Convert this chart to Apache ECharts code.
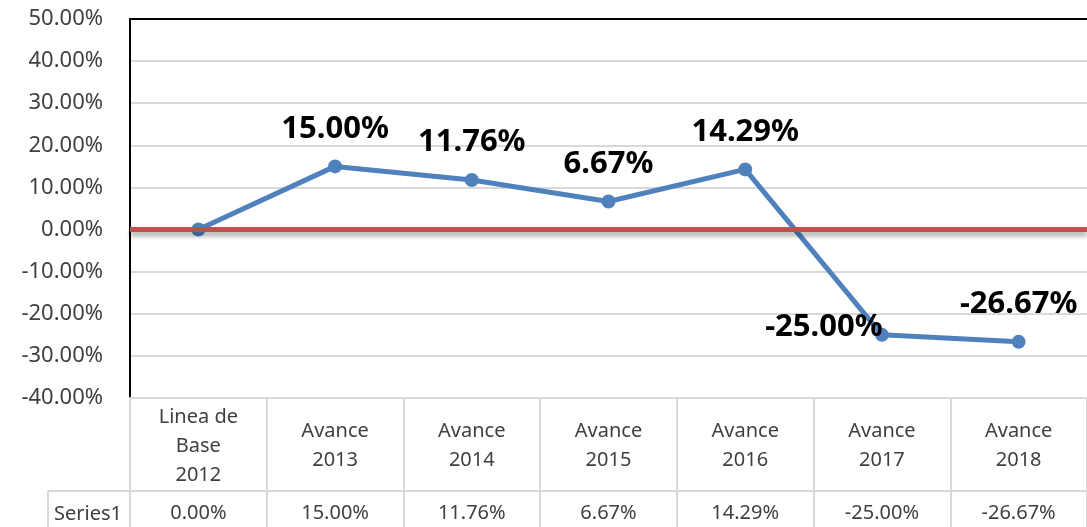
<!DOCTYPE html>
<html>
<head>
<meta charset="utf-8">
<script src="https://cdn.jsdelivr.net/npm/echarts@6/dist/echarts.min.js"></script>
<style>
html,body{margin:0;padding:0;background:#fff;}
#chart{width:1087px;height:527px;}
</style>
</head>
<body>
<div id="chart"></div>
<script>
const categories = ['Linea de\nBase\n2012', 'Avance\n2013', 'Avance\n2014', 'Avance\n2015', 'Avance\n2016', 'Avance\n2017', 'Avance\n2018'];
const seriesName = 'Series1';
const values = [0.00, 15.00, 11.76, 6.67, 14.29, -25.00, -26.67];
const yTicks = { min: -40, max: 50, interval: 10 };

const FONT = '"Noto Sans", "Open Sans", sans-serif';
const GRID_GRAY = '#d9d9d9';
const TEXT = '#404040';
const fmt = v => Number(v).toFixed(2) + '%';

const chart = echarts.init(document.getElementById('chart'), null, { renderer: 'canvas' });

const seriesData = values.map((v, i) => {
  const item = { value: v };
  if (i === 0) item.label = { show: false };
  if (i === 5) item.label = { position: 'inside', offset: [-58, -8] };
  return item;
});

chart.setOption({
  animation: false,
  backgroundColor: '#fff',
  textStyle: { fontFamily: FONT },
  grid: [
    { left: 130, right: 0, top: 19, bottom: 129 },
    { left: 130, right: 0, top: 491, height: 44 }
  ],
  xAxis: [
    {
      gridIndex: 0, type: 'category', data: categories, position: 'bottom',
      axisLine: { show: true, onZero: false, lineStyle: { color: GRID_GRAY, width: 2 } },
      axisTick: { show: true, length: 129, alignWithLabel: false, lineStyle: { color: GRID_GRAY, width: 2 } },
      axisLabel: { color: TEXT, fontSize: 20, fontFamily: FONT, lineHeight: 29, margin: 48, verticalAlign: 'middle', align: 'center', interval: 0 },
      splitLine: { show: false }
    },
    {
      gridIndex: 0, type: 'category', data: categories, position: 'top',
      axisLine: { show: true, onZero: false, lineStyle: { color: '#000', width: 2 } },
      axisTick: { show: false }, axisLabel: { show: false }, splitLine: { show: false }
    },
    {
      gridIndex: 1, type: 'category', data: values.map(fmt), position: 'top',
      axisLine: { show: true, onZero: false, lineStyle: { color: GRID_GRAY, width: 2 } },
      axisTick: { show: false },
      axisLabel: { inside: true, color: TEXT, fontSize: 20, fontFamily: FONT, margin: 22, verticalAlign: 'middle', interval: 0 },
      splitLine: { show: false }
    }
  ],
  yAxis: [
    {
      gridIndex: 0, type: 'value', min: yTicks.min, max: yTicks.max, interval: yTicks.interval,
      axisLine: { show: true, lineStyle: { color: '#000', width: 2 } },
      axisTick: { show: false },
      axisLabel: { color: TEXT, fontSize: 22, fontFamily: FONT, margin: 27, formatter: v => fmt(v) },
      splitLine: { show: true, lineStyle: { color: GRID_GRAY, width: 2 } }
    },
    {
      gridIndex: 1, type: 'category', data: [seriesName],
      axisLine: { show: false }, axisTick: { show: false },
      axisLabel: {
        margin: 8, verticalAlign: 'middle',
        formatter: v => '{s|' + v + '}',
        rich: { s: { color: TEXT, fontSize: 20, fontFamily: FONT, padding: [10, 0, 0, 0] } }
      },
      splitLine: { show: false }
    }
  ],
  graphic: [
    { type: 'line', shape: { x1: 48, y1: 491, x2: 130, y2: 491 }, style: { stroke: GRID_GRAY, lineWidth: 2 } },
    { type: 'line', shape: { x1: 48, y1: 491, x2: 48, y2: 540 }, style: { stroke: GRID_GRAY, lineWidth: 2 } }
  ],
  series: [
    {
      name: seriesName, type: 'line', xAxisIndex: 0, yAxisIndex: 0,
      data: seriesData,
      symbol: 'circle', symbolSize: 14,
      lineStyle: { color: '#4F81BD', width: 5 },
      itemStyle: { color: '#4F81BD' },
      label: { show: true, position: 'top', distance: 15, color: '#000', fontSize: 31, fontWeight: 'bold', fontFamily: FONT, formatter: p => fmt(p.value) },
      markLine: {
        silent: true, symbol: 'none', label: { show: false },
        lineStyle: { color: '#C0504D', width: 5, type: 'solid', shadowColor: 'rgba(0,0,0,0.35)', shadowBlur: 5, shadowOffsetY: 4 },
        data: [{ yAxis: 0 }]
      },
      z: 3
    }
  ]
});
</script>
</body>
</html>
